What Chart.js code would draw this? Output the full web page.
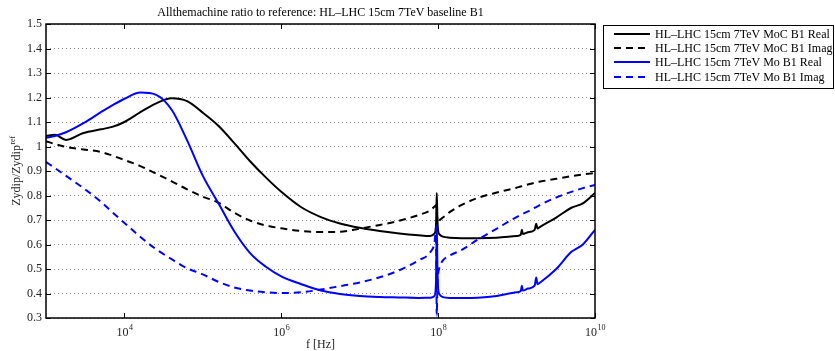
<!DOCTYPE html>
<html>
<head>
<meta charset="utf-8">
<script src="https://cdn.jsdelivr.net/npm/chart.js@4.4.1/dist/chart.umd.min.js"></script>
<style>
  html, body { margin: 0; padding: 0; background: #fff; }
  #wrap { width: 835px; height: 351px; }
</style>
</head>
<body>
<div id="wrap"><canvas id="zChart" width="835" height="351"></canvas></div>
<script>
// frequency grid [Hz] and ratios
const freqHz = [
  1.0e3, 1.3e3, 1.8e3, 3.0e3, 5.0e3, 7.0e3,
  1.0e4, 1.6e4, 2.5e4, 4.0e4, 6.3e4,
  1.0e5, 1.6e5, 2.5e5, 4.0e5, 6.3e5,
  1.0e6, 1.8e6, 3.2e6, 5.6e6,
  1.0e7, 1.8e7, 3.2e7, 5.6e7, 8.0e7, 9.0e7, 9.4e7, 9.6e7, 9.8e7,
  1.0e8, 1.05e8, 1.15e8, 1.4e8, 2.0e8, 3.2e8, 5.6e8,
  1.0e9, 1.13e9, 1.17e9, 1.2e9, 1.4e9, 1.7e9, 1.78e9, 1.85e9,
  2.0e9, 3.2e9, 5.0e9, 7.0e9, 1.0e10
];
const mocReal = [
  1.043, 1.048, 1.027, 1.055, 1.07, 1.08,
  1.10, 1.14, 1.175, 1.197, 1.185,
  1.138, 1.083, 1.015, 0.94, 0.875,
  0.815, 0.752, 0.712, 0.686,
  0.668, 0.655, 0.645, 0.638, 0.635, 0.645, 0.68, 0.81, 0.70,
  0.655, 0.64, 0.632, 0.628, 0.626, 0.626, 0.628,
  0.635, 0.64, 0.66, 0.643, 0.65, 0.66, 0.685, 0.665,
  0.672, 0.71, 0.75, 0.768, 0.81
];
const mocImag = [
  1.022, 1.01, 0.998, 0.988, 0.978, 0.963,
  0.945, 0.92, 0.89, 0.858, 0.825,
  0.795, 0.77, 0.73, 0.698, 0.678,
  0.666, 0.655, 0.651, 0.652,
  0.665, 0.68, 0.697, 0.72, 0.74, 0.755, 0.76, 0.73, 0.70,
  0.69, 0.70, 0.71, 0.732, 0.762, 0.79, 0.812,
  0.832, 0.837, 0.838, 0.839, 0.845, 0.852, 0.853, 0.855,
  0.857, 0.868, 0.879, 0.886, 0.892
];
const moReal = [
  1.035, 1.043, 1.058, 1.095, 1.14, 1.168,
  1.195, 1.22, 1.212, 1.15, 1.025,
  0.88, 0.765, 0.655, 0.565, 0.51,
  0.47, 0.438, 0.412, 0.398,
  0.39, 0.386, 0.384, 0.382, 0.383, 0.39, 0.45, 0.68, 0.50,
  0.42, 0.395, 0.385, 0.382, 0.382, 0.383, 0.39,
  0.405, 0.41, 0.432, 0.412, 0.42, 0.432, 0.465, 0.438,
  0.445, 0.5, 0.57, 0.6, 0.66
];
const moImag = [
  0.937, 0.912, 0.88, 0.83, 0.775, 0.732,
  0.688, 0.631, 0.582, 0.54, 0.503,
  0.478, 0.447, 0.425, 0.412, 0.405,
  0.402, 0.405, 0.416, 0.43,
  0.445, 0.466, 0.495, 0.535, 0.57, 0.61, 0.67, 0.31, 0.44,
  0.48, 0.51, 0.535, 0.555, 0.578, 0.62, 0.665,
  0.712, 0.72, 0.723, 0.725, 0.735, 0.75, 0.753, 0.756,
  0.762, 0.792, 0.815, 0.83, 0.843
];
const seriesNames = [
  'HL\u2013LHC 15cm 7TeV MoC B1 Real',
  'HL\u2013LHC 15cm 7TeV MoC B1 Imag',
  'HL\u2013LHC 15cm 7TeV Mo B1 Real',
  'HL\u2013LHC 15cm 7TeV Mo B1 Imag'
];
const xTicks = [1e4, 1e6, 1e8, 1e10];
const xTickExp = ['4', '6', '8', '10'];

const SERIF = "'Liberation Serif', 'Times New Roman', serif";
Chart.defaults.font.family = SERIF;
Chart.defaults.font.size = 12;
Chart.defaults.color = '#222';

const pts = vals => vals.map((v, i) => ({ x: freqHz[i], y: v }));
const DASH = [7, 5];

function mkSet(label, vals, color, dashed, order) {
  return {
    label: label,
    data: pts(vals),
    borderColor: color,
    borderWidth: 2,
    borderDash: dashed ? DASH : [],
    pointRadius: 0,
    fill: false,
    cubicInterpolationMode: 'monotone',
    order: order
  };
}

// box, inward ticks, 10^n labels, y title and boxed legend, matlab style
const frameLegend = {
  id: 'frameLegend',
  afterDraw(chart) {
    const { ctx, chartArea: a, scales: { x, y } } = chart;
    ctx.save();
    ctx.strokeStyle = '#000';
    ctx.lineWidth = 1;
    ctx.setLineDash([]);
    ctx.beginPath();
    x.ticks.forEach(t => {
      const px = Math.round(x.getPixelForValue(t.value)) + 0.5;
      ctx.moveTo(px, a.bottom); ctx.lineTo(px, a.bottom - 5);
      ctx.moveTo(px, a.top); ctx.lineTo(px, a.top + 5);
    });
    y.ticks.forEach(t => {
      const py = Math.round(y.getPixelForValue(t.value)) + 0.5;
      ctx.moveTo(a.left, py); ctx.lineTo(a.left + 5, py);
      ctx.moveTo(a.right, py); ctx.lineTo(a.right - 5, py);
    });
    ctx.stroke();
    ctx.lineWidth = 1.5;
    ctx.strokeRect(a.left, a.top, a.right - a.left, a.bottom - a.top);

    // x tick labels 10^n
    ctx.fillStyle = '#222';
    ctx.textBaseline = 'alphabetic';
    ctx.textAlign = 'left';
    x.ticks.forEach((t, i) => {
      const px = x.getPixelForValue(t.value);
      ctx.font = '12px ' + SERIF;
      const w1 = ctx.measureText('10').width;
      ctx.font = '8px ' + SERIF;
      const w2 = ctx.measureText(xTickExp[i]).width;
      const sx = px - (w1 + w2) / 2;
      ctx.font = '12px ' + SERIF;
      ctx.fillText('10', sx, a.bottom + 18);
      ctx.font = '8px ' + SERIF;
      ctx.fillText(xTickExp[i], sx + w1 + 0.5, a.bottom + 12);
    });

    // y axis title Zydip/Zydip^ref
    ctx.save();
    ctx.translate(20, (a.top + a.bottom) / 2);
    ctx.rotate(-Math.PI / 2);
    ctx.font = '12px ' + SERIF;
    const m1 = ctx.measureText('Zydip/Zydip').width;
    ctx.font = '8px ' + SERIF;
    const m2 = ctx.measureText('ref').width;
    ctx.font = '12px ' + SERIF;
    ctx.fillText('Zydip/Zydip', -(m1 + m2) / 2, 0);
    ctx.font = '8px ' + SERIF;
    ctx.fillText('ref', -(m1 + m2) / 2 + m1 + 0.5, -5);
    ctx.restore();

    // legend
    const lx = 603.5, ly = 25.5, lw = 230, lh = 63;
    ctx.fillStyle = '#fff';
    ctx.fillRect(lx, ly, lw, lh);
    ctx.strokeStyle = '#000';
    ctx.lineWidth = 1;
    ctx.strokeRect(lx, ly, lw, lh);
    ctx.font = '12px ' + SERIF;
    ctx.textBaseline = 'middle';
    ctx.textAlign = 'left';
    chart.data.datasets.forEach((ds, i) => {
      const cy = Math.round(34 + i * 14.2);
      ctx.strokeStyle = ds.borderColor;
      ctx.lineWidth = 2;
      ctx.setLineDash(ds.borderDash);
      ctx.beginPath();
      ctx.moveTo(614, cy); ctx.lineTo(650, cy);
      ctx.stroke();
      ctx.fillStyle = '#000';
      ctx.fillText(ds.label, 655, cy + 0.5);
    });
    ctx.restore();
  }
};

new Chart(document.getElementById('zChart').getContext('2d'), {
  type: 'line',
  data: {
    datasets: [
      mkSet(seriesNames[0], mocReal, '#000000', false, 3),
      mkSet(seriesNames[1], mocImag, '#000000', true, 2),
      mkSet(seriesNames[2], moReal, '#0000ff', false, 1),
      mkSet(seriesNames[3], moImag, '#0000ff', true, 0)
    ]
  },
  options: {
    responsive: false,
    animation: false,
    layout: { padding: { left: 0, right: 240, top: 0, bottom: 0 } },
    plugins: {
      legend: { display: false },
      tooltip: { enabled: false },
      title: {
        display: true,
        fullSize: false,
        text: 'Allthemachine ratio to reference: HL\u2013LHC 15cm 7TeV baseline B1',
        color: '#000',
        font: { family: SERIF, size: 12, weight: 'normal', lineHeight: 1.2 },
        padding: { top: 5.5, bottom: 4.1 }
      }
    },
    scales: {
      x: {
        type: 'logarithmic',
        min: 1e3,
        max: 1e10,
        afterBuildTicks: s => { s.ticks = xTicks.map(v => ({ value: v })); },
        afterFit: s => { s.height = 33; },
        grid: { display: false, drawTicks: false },
        border: { display: false },
        ticks: { display: false, autoSkip: false, maxRotation: 0 },
        title: {
          display: true,
          text: 'f [Hz]',
          color: '#222',
          font: { size: 12, lineHeight: 1 },
          padding: { top: 0, bottom: 0 }
        }
      },
      y: {
        min: 0.3,
        max: 1.5,
        afterFit: s => { s.width = 46; },
        grid: { color: '#8a8a8a', lineWidth: 1, drawTicks: false },
        border: { display: false, dash: [1, 3] },
        ticks: {
          stepSize: 0.1,
          padding: 4,
          color: '#222',
          callback: v => String(+v.toFixed(1))
        },
        title: { display: false }
      }
    }
  },
  plugins: [frameLegend]
});
</script>
</body>
</html>
